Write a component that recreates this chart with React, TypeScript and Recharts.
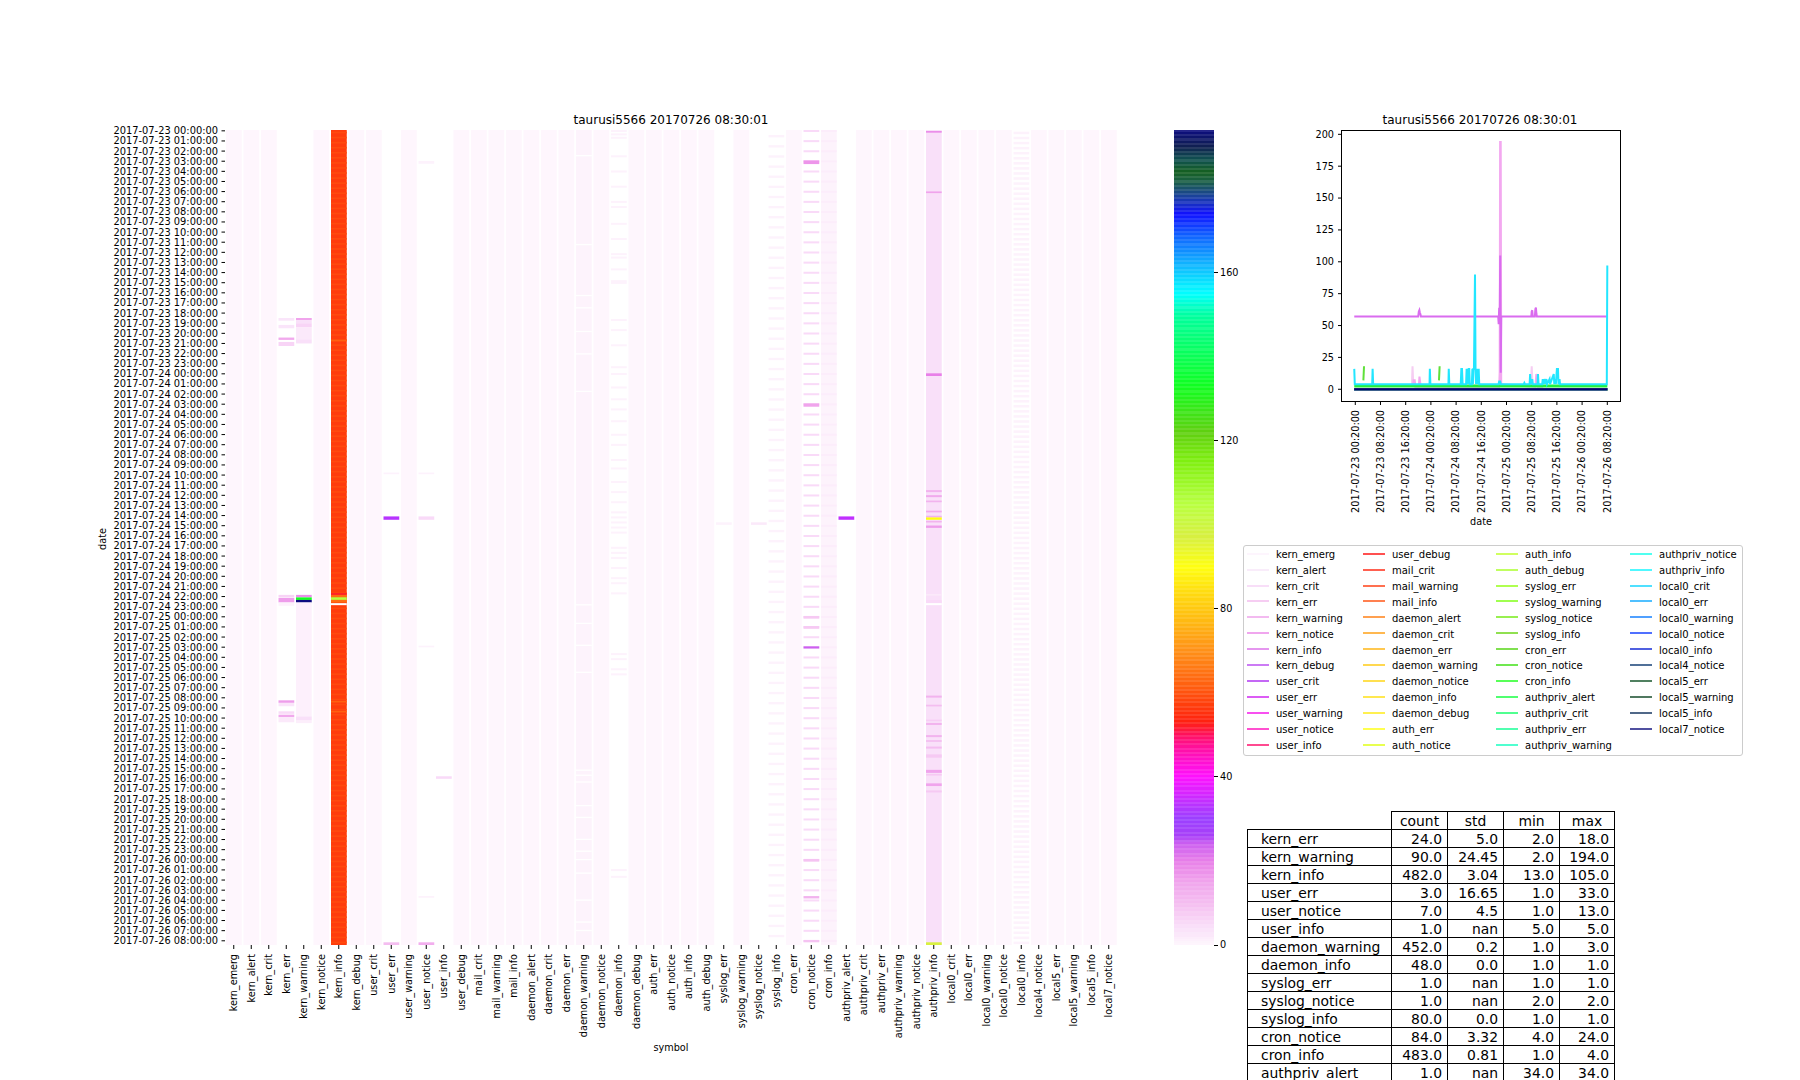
import { Bar, BarChart, Cell, Line, LineChart, XAxis, YAxis } from "recharts";

const FONT = "'DejaVu Sans', sans-serif";
const TITLE = "taurusi5566 20170726 08:30:01";
const ROWS = 483;

const symbols = [
  "kern_emerg", "kern_alert", "kern_crit", "kern_err", "kern_warning", "kern_notice", "kern_info", "kern_debug",
  "user_crit", "user_err", "user_warning", "user_notice", "user_info", "user_debug",
  "mail_crit", "mail_warning", "mail_info",
  "daemon_alert", "daemon_crit", "daemon_err", "daemon_warning", "daemon_notice", "daemon_info", "daemon_debug",
  "auth_err", "auth_notice", "auth_info", "auth_debug",
  "syslog_err", "syslog_warning", "syslog_notice", "syslog_info",
  "cron_err", "cron_notice", "cron_info",
  "authpriv_alert", "authpriv_crit", "authpriv_err", "authpriv_warning", "authpriv_notice", "authpriv_info",
  "local0_crit", "local0_err", "local0_warning", "local0_notice", "local0_info",
  "local4_notice", "local5_err", "local5_warning", "local5_info", "local7_notice",
];

const legendColors = [
  "#fdf5fd", "#f9ecfa", "#f8def8", "#f6cdf2", "#f3baf0", "#f0a6ee", "#e596ef", "#cc7bf5", "#c468f5", "#dc5cf5", "#f850f0", "#ff50d0", "#ff4a90",
  "#ff5050", "#ff6050", "#ff7050", "#ff8050", "#ffa050", "#ffb850", "#ffc850", "#ffd850", "#ffe050", "#ffe850", "#fff050", "#ffff50", "#e8ff50",
  "#d0ff60", "#c0ff60", "#b0ff50", "#a0ff50", "#98f050", "#90e050", "#80e050", "#70e850", "#58ff58", "#50ff70", "#50ff90", "#50ffb0", "#50ffd0",
  "#50fff0", "#50f8ff", "#50e0ff", "#50c0ff", "#50a0ff", "#5070ff", "#5060e0", "#507098", "#508060", "#507860", "#506888", "#5050a0",
];

const plotColorOverrides: Record<string, string> = {
  kern_info: "#da6cef",
  kern_warning: "#f3a8f0",
  cron_notice: "#5fe03a",
  cron_info: "#22f03c",
  authpriv_info: "#22e6ff",
  local7_notice: "#00006e",
};

const days = ["2017-07-23", "2017-07-24", "2017-07-25", "2017-07-26"];
const hours = ["00", "01", "02", "03", "04", "05", "06", "07", "08", "09", "10", "11", "12", "13", "14", "15", "16", "17", "18", "19", "20", "21", "22", "23"];
const hourLabels = days.flatMap((d) => hours.map((h) => `${d} ${h}:00:00`)).slice(0, 81);
const hourTicks = hourLabels.map((_, i) => i * 6 + 0.5);

// colormap: [value, colour]
const colorStops: [number, string][] = [
  [0, "#fef6fd"], [1, "#fdf2fc"], [2, "#fbe9fa"], [4, "#f9e0f9"], [6, "#f8d4f6"], [10, "#f4bdf0"], [15, "#f0a4ec"], [20, "#e87fe8"],
  [24, "#cc60f0"], [26, "#a840f8"], [30, "#9a40ff"], [34, "#c030ff"], [40, "#ff10ff"], [46, "#ff10b0"], [50, "#ff1060"], [53, "#ff2010"],
  [57, "#ff3c0c"], [62, "#ff6010"], [70, "#ff9018"], [78, "#ffbe10"], [84, "#ffdc10"], [90, "#ffff10"], [97, "#d8f040"], [105, "#b8ff40"],
  [115, "#80f010"], [122, "#60d010"], [133, "#10ff20"], [150, "#00ffa0"], [155, "#00ffff"], [161, "#10c0ff"], [169, "#1060ff"], [174, "#1010ff"],
  [178, "#1a40a0"], [182, "#1a6040"], [184, "#156020"], [187, "#105050"], [190, "#102050"], [194, "#0c0c80"],
];

function colorOf(v: number) {
  let i = 0;
  while (i < colorStops.length - 2 && colorStops[i + 1][0] <= v) i++;
  const [a, ca] = colorStops[i];
  const [b, cb] = colorStops[i + 1];
  const t = Math.min(1, (v - a) / (b - a));
  const ch = (c: string, p: number) => parseInt(c.slice(p, p + 2), 16);
  const mix = (p: number) => Math.round(ch(ca, p) + (ch(cb, p) - ch(ca, p)) * t);
  return `rgb(${mix(1)},${mix(3)},${mix(5)})`;
}

// columns that hold no value at all except in the runs listed below
const emptyColumns = ["kern_err", "kern_warning", "user_err", "user_notice", "user_info", "daemon_info", "syslog_err", "syslog_notice", "syslog_info", "cron_notice", "authpriv_alert", "local0_info"];
const baseValues: Record<string, number> = { kern_info: 57, daemon_warning: 0.8, cron_info: 0.8, authpriv_info: 4 };

// runs are [first row, end row, value]; a null value is a missing cell
type Run = [number, number, number | null];
const kernErrRuns: Run[] = [
  [111.4, 113, 3], [115.5, 117.5, 3], [123, 124.4, 14], [125.6, 128, 6], [275.5, 277, 6], [277.3, 280, 16], [280, 282, 1],
  [338, 339.5, 16], [339.5, 341.5, 3], [344.5, 346, 5], [346.5, 348, 14], [348, 351, 2],
];
const kernWarningRuns: Run[] = [
  [111.4, 112.8, 15], [113, 114.5, 4], [114.5, 117, 6], [117, 124, 2], [124, 126.5, 4], [275.5, 277, 18], [277, 278.5, 133], [278.5, 280, 194],
  [280, 347.5, 1.2], [347.5, 350, 4], [350, 351.5, 1.5],
];
const kernInfoRuns: Run[] = [
  [124.3, 125.3, 62], [274.5, 275.5, 52], [275.5, 276.9, 64], [276.9, 278.5, 105], [278.5, 280, 64], [280.4, 281.6, null], [338.3, 339.3, 62], [344.2, 345.2, 62],
];
const userErrRuns: Run[] = [[203, 204, 1], [229, 231, 33], [481.4, 483, 10]];
const userNoticeRuns: Run[] = [[18.4, 20, 1], [203, 204, 1], [229, 231, 5], [305.6, 306.6, 1], [454, 455, 1], [481.4, 483, 13]];
const userInfoRuns: Run[] = [[383, 384.5, 5]];
const syslogErrRuns: Run[] = [[232.5, 234, 1]];
const syslogNoticeRuns: Run[] = [[232.5, 234, 2]];
const authprivAlertRuns: Run[] = [[229, 231, 34]];
const authprivInfoRuns: Run[] = [
  [0.6, 1.6, 18], [36.4, 37.4, 15], [144.2, 145.8, 20], [213.4, 214.6, 12], [216.4, 217.6, 14], [219.6, 220.6, 12], [225.6, 226.6, 14], [228.6, 229.6, 12],
  [229.6, 231, 90], [231.6, 232.6, 12], [234.4, 235.8, 16], [275, 276, 2], [278.6, 280.4, 5], [280.4, 281.6, null], [335.2, 336.4, 12], [340.6, 341.6, 10],
  [349.4, 350.4, 7], [351.4, 352.6, 12], [358.6, 359.8, 12], [361.6, 362.6, 10], [365.4, 366.6, 10], [370, 372, 8], [379.2, 381, 15], [381.6, 382.6, 8],
  [387.2, 388.8, 15], [391.4, 392.6, 8], [481.4, 483, 97],
];
const daemonWarningGaps = [14.8, 67.5, 97.7, 105, 119, 132.3, 154.5, 281, 292, 305, 321, 379, 382, 386, 400, 407, 420, 427, 432, 440, 456, 469, 474];
const daemonInfoRows = [
  0, 2, 4, 15, 24, 33, 42, 45, 55, 64, 73, 75, 82, 89, 90, 112, 118, 127, 140, 144, 152, 159, 165, 172, 180, 186, 195, 200,
  208, 214, 220, 226, 229, 232, 235, 238, 247, 250, 253, 259, 265, 268, 274, 310, 313, 319, 322, 438, 442,
];
const hourlyRows = [
  0, 6, 12, 18, 24, 30, 36, 42, 48, 54, 60, 66, 72, 78, 84, 90, 96, 102, 108, 114, 120, 126, 132, 138, 144, 150, 156, 162, 168, 174, 180, 186, 192, 198, 204, 210, 216,
  222, 228, 234, 240, 246, 252, 258, 264, 270, 276, 282, 288, 294, 300, 306, 312, 318, 324, 330, 336, 342, 348, 354, 360, 366, 372, 378, 384, 390, 396, 402, 408, 414,
  420, 426, 432, 438, 444, 450, 456, 462, 468, 474, 480,
];
const cronNoticeExtra: Run[] = [[18, 20.2, 17], [162, 164, 15], [288, 289.6, 8], [294, 295.6, 8], [306, 307.3, 24], [432, 433.6, 9], [454, 455.4, 12], [480, 481.4, 9]];
const syslogInfoRows = [
  3, 9, 15, 21, 27, 33, 39, 45, 51, 57, 63, 69, 75, 81, 87, 93, 99, 105, 111, 117, 123, 129, 135, 141, 147, 153, 159, 165, 171, 177, 183, 189, 195, 201, 207, 213, 219,
  225, 231, 237, 243, 249, 255, 261, 267, 273, 279, 285, 291, 297, 303, 309, 315, 321, 327, 333, 339, 345, 351, 357, 363, 369, 375, 381, 387, 393, 399, 405, 411, 417,
  423, 429, 435, 441, 447, 453, 459, 465, 471, 477,
];
const local0InfoRows = [
  1, 4, 7, 10, 13, 16, 19, 22, 25, 28, 31, 34, 37, 40, 43, 46, 49, 52, 55, 58, 61, 64, 67, 70, 73, 76, 79, 82, 85, 88, 91, 94, 97, 100, 103, 106, 109, 112, 115, 118,
  121, 124, 127, 130, 133, 136, 139, 142, 145, 148, 151, 154, 157, 160, 163, 166, 169, 172, 175, 178, 181, 184, 187, 190, 193, 196, 199, 202, 205, 208, 211, 214, 217, 220,
  223, 226, 229, 232, 235, 238, 241, 244, 247, 250, 253, 256, 259, 262, 265, 268, 271, 274, 277, 280, 283, 286, 289, 292, 295, 298, 301, 304, 307, 310, 313, 316, 319, 322,
  325, 328, 331, 334, 337, 340, 343, 346, 349, 352, 355, 358, 361, 364, 367, 370, 373, 376, 379, 382, 385, 388, 391, 394, 397, 400, 403, 406, 409, 412, 415, 418, 421, 424,
  427, 430, 433, 436, 439, 442, 445, 448, 451, 454, 457, 460, 463, 466, 469, 472, 475, 478, 481,
];

const rowsOf = (rows: number[], span: number, v: number | null): Run[] => rows.map((r) => [r, r + span, v]);

const heatRuns: Record<string, Run[]> = {
  kern_err: kernErrRuns,
  kern_warning: kernWarningRuns,
  kern_info: [...rowsOf(local0InfoRows, 1, 59), ...kernInfoRuns],
  user_err: userErrRuns,
  user_notice: userNoticeRuns,
  user_info: userInfoRuns,
  syslog_err: syslogErrRuns,
  syslog_notice: syslogNoticeRuns,
  authpriv_alert: authprivAlertRuns,
  authpriv_info: authprivInfoRuns,
  daemon_warning: rowsOf(daemonWarningGaps, 0.8, null),
  daemon_info: rowsOf(daemonInfoRows, 1.2, 1),
  syslog_info: rowsOf(syslogInfoRows, 1.4, 1),
  cron_notice: [...rowsOf(hourlyRows, 1.2, 5), ...cronNoticeExtra],
  cron_info: rowsOf(hourlyRows, 1.2, 1.6),
  local0_info: rowsOf(local0InfoRows, 1.5, 1),
};

const heatData = symbols.flatMap((s, i) => {
  const base = emptyColumns.includes(s) ? [] : [{ col: i + 0.5, range: [0, ROWS], fill: colorOf(baseValues[s] ?? 0) }];
  const runs = (heatRuns[s] ?? []).map(([a, b, v]) => ({ col: i + 0.5, range: [a, b], fill: v === null ? "#ffffff" : colorOf(v) }));
  return [...base, ...runs];
});

const colorbarTicks = [0, 40, 80, 120, 160];
const colorbarData = Array.from({ length: 388 }, (_, v) => ({ col: 0.5, range: [v / 2, v / 2 + 0.5], fill: colorOf(v / 2 + 0.25), dim: v % 2 === 1 }));

// line chart: x is hours after 2017-07-23 00:00
const lineTicks = [0.33, 8.33, 16.33, 24.33, 32.33, 40.33, 48.33, 56.33, 64.33, 72.33, 80.33];
const lineTickLabels = [
  "2017-07-23 00:20:00", "2017-07-23 08:20:00", "2017-07-23 16:20:00", "2017-07-24 00:20:00", "2017-07-24 08:20:00", "2017-07-24 16:20:00",
  "2017-07-25 00:20:00", "2017-07-25 08:20:00", "2017-07-25 16:20:00", "2017-07-26 00:20:00", "2017-07-26 08:20:00",
];
const countTicks = [0, 25, 50, 75, 100, 125, 150, 175, 200];
const xDomain: [number, number] = [-3.89, 84.36];
const yDomain: [number, number] = [-9.2, 202.6];

type Pt = [number, number | null];
const zeroLine: Pt[] = [[0, 0], [80.33, 0]];
const kernErrLine: Pt[] = [[18.3, 3], [18.5, 18], [18.7, 5], [19, 3], [56.1, 3], [56.33, 18], [56.6, 3], [58, 3]];
const kernWarningLine: Pt[] = [
  [18.6, 2], [18.83, 7], [19.2, 7], [19.4, 2], [20.5, 2], [20.7, 10], [20.9, 6], [21.1, 2], [46, 2], [46.17, 14], [46.3, 194], [46.5, 194], [46.65, 4],
  [57.5, 2], [57.8, 12], [58.1, 6], [58.3, 2], [60, 2],
];
const kernInfoLine: Pt[] = [
  [0, 57], [20.3, 57], [20.5, 61], [20.67, 62], [20.83, 60], [21, 59], [21.17, 57], [45.7, 57], [45.85, 51], [46, 64], [46.17, 52], [46.33, 105], [46.5, 13],
  [46.67, 57], [56.2, 57], [56.33, 61], [56.5, 62], [56.67, 57], [57.33, 57], [57.5, 63], [57.67, 64], [57.83, 59], [58, 57], [80.33, 57],
];
const cronNoticeLine: Pt[] = [[2.9, 7], [3.1, 18], [3.11, null], [26.9, 7], [27.1, 18]];
const cronInfoLine: Pt[] = [[0, 2.6], [80.33, 2.6]];
const authprivInfoLine: Pt[] = [
  [0, 16], [0.17, 4], [5.7, 4], [5.83, 16], [6, 4], [23.9, 4], [24, 16], [24.17, 4], [29.9, 4], [30, 16], [30.17, 4], [33.8, 4], [34, 16], [34.2, 16], [34.4, 4],
  [35.5, 4], [35.67, 16], [35.83, 4], [36, 16], [36.17, 4], [36.33, 16], [36.5, 16], [36.67, 4], [37.33, 4], [37.5, 16], [37.67, 4], [37.83, 16], [38, 16],
  [38.33, 90], [38.5, 16], [38.67, 4], [38.83, 16], [39, 4], [39.17, 16], [39.33, 4], [39.5, 16], [39.67, 4],
  [45.8, 4], [46, 6], [46.33, 6], [46.5, 4], [53.83, 4], [54, 5], [54.2, 4], [55.67, 4], [55.83, 12], [56, 4], [56.5, 8], [56.67, 4],
  [58.17, 4], [58.33, 12], [58.5, 4], [59.67, 4], [59.83, 8], [60, 4], [60.5, 8], [60.67, 4], [61, 8], [61.2, 4], [62, 8], [62.17, 4], [63.33, 12], [63.5, 4],
  [63.83, 8], [64, 4], [64.33, 16], [64.67, 16], [64.83, 4], [65.17, 8], [65.33, 4], [80.17, 4], [80.33, 97],
];
const lineSeries: Record<string, Pt[]> = {
  kern_err: kernErrLine,
  kern_warning: kernWarningLine,
  kern_info: kernInfoLine,
  cron_notice: cronNoticeLine,
  cron_info: cronInfoLine,
  authpriv_info: authprivInfoLine,
};

// describe table
const tableColumns = ["count", "std", "min", "max"];
const tableNames = ["kern_err", "kern_warning", "kern_info", "user_err", "user_notice", "user_info", "daemon_warning", "daemon_info", "syslog_err", "syslog_notice", "syslog_info", "cron_notice", "cron_info", "authpriv_alert"];
const tableCount = ["24.0", "90.0", "482.0", "3.0", "7.0", "1.0", "452.0", "48.0", "1.0", "1.0", "80.0", "84.0", "483.0", "1.0"];
const tableStd = ["5.0", "24.45", "3.04", "16.65", "4.5", "nan", "0.2", "0.0", "nan", "nan", "0.0", "3.32", "0.81", "nan"];
const tableMin = ["2.0", "2.0", "13.0", "1.0", "1.0", "5.0", "1.0", "1.0", "1.0", "2.0", "1.0", "4.0", "1.0", "34.0"];
const tableMax = ["18.0", "194.0", "105.0", "33.0", "13.0", "5.0", "3.0", "1.0", "1.0", "2.0", "1.0", "24.0", "4.0", "34.0"];

const tickFont = { fontSize: 9.7, fill: "#000", fontFamily: FONT };
const dateTickFont = { ...tickFont, fontSize: 9.85 };
const tickStroke = { stroke: "#000" };

const place = (left: number, top: number): React.CSSProperties => ({ position: "absolute", left, top });

function Caption({ x, y, text, size = 9.7, rotate = false }: { x: number; y: number; text: string; size?: number; rotate?: boolean }) {
  return (
    <div style={{ ...place(x, y), fontSize: size, whiteSpace: "nowrap", lineHeight: 1, transform: `translate(-50%,-50%)${rotate ? " rotate(-90deg)" : ""}` }}>
      {text}
    </div>
  );
}

function VerticalTick({ x, y, payload, labels }: any) {
  return (
    <text x={x} y={y} dy={3.4} textAnchor="end" transform={`rotate(-90 ${x} ${y})`} {...tickFont}>
      {labels(payload.value)}
    </text>
  );
}

function Heatmap() {
  return (
    <div style={place(0, 100)}>
      <BarChart width={1160} height={980} data={heatData} margin={{ top: 30, right: 42.5, left: 0, bottom: 0 }}>
        <XAxis
          dataKey="col" type="number" domain={[0, symbols.length]} ticks={symbols.map((_, i) => i + 0.5)} interval={0} height={135}
          axisLine={false} tickLine={tickStroke} tickSize={4} tickMargin={5}
          tick={<VerticalTick labels={(v: number) => symbols[Math.floor(v)]} />}
        />
        <YAxis
          type="number" reversed domain={[0, ROWS]} ticks={hourTicks} interval={0} width={225} axisLine={false} tickLine={tickStroke} tickSize={3.5} tickMargin={3.5}
          tick={dateTickFont} tickFormatter={(v: number) => hourLabels[Math.floor(v / 6)]}
        />
        <Bar dataKey="range" barSize={17.5} isAnimationActive={false}>
          {heatData.map((d, i) => <Cell key={i} fill={d.fill} />)}
        </Bar>
      </BarChart>
    </div>
  );
}

function Colorbar() {
  return (
    <div style={{ ...place(1174, 100), shapeRendering: "crispEdges" }}>
      <BarChart width={80} height={860} data={colorbarData} margin={{ top: 30, right: 0, left: 0, bottom: 15 }}>
        <XAxis dataKey="col" type="number" domain={[0, 1]} hide />
        <YAxis
          orientation="right" type="number" domain={[0, 194]} ticks={colorbarTicks} interval={0} width={40} axisLine={false} tickLine={tickStroke} tickSize={4} tickMargin={2}
          tick={tickFont}
        />
        <Bar dataKey="range" barSize={40} isAnimationActive={false}>
          {colorbarData.map((d, i) => <Cell key={i} fill={d.fill} fillOpacity={d.dim ? 0.9 : 1} />)}
        </Bar>
      </BarChart>
    </div>
  );
}

function CountLines() {
  return (
    <div style={place(1240, 100)}>
      <LineChart width={420} height={440} margin={{ top: 31, right: 40, left: 0, bottom: 0 }}>
        <XAxis
          dataKey="x" type="number" domain={xDomain} ticks={lineTicks} interval={0} height={139} axisLine={false} tickLine={tickStroke} tickSize={4} tickMargin={5}
          tick={<VerticalTick labels={(v: number) => lineTickLabels[lineTicks.indexOf(v)]} />}
        />
        <YAxis
          type="number" domain={yDomain} ticks={countTicks} interval={0} width={102} axisLine={false} tickLine={tickStroke} tickSize={4} tickMargin={4}
          tick={tickFont}
        />
        {symbols.map((s, i) => (
          <Line
            key={s} name={s} dataKey="y" data={(lineSeries[s] ?? zeroLine).map(([x, y]) => ({ x, y }))} stroke={plotColorOverrides[s] ?? legendColors[i]}
            strokeWidth={s === "cron_info" ? 3 : 2} dot={false} isAnimationActive={false} type="linear"
          />
        ))}
      </LineChart>
      {/* axes frame */}
      <div style={{ ...place(101, 30), width: 278, height: 270, border: "1px solid #000", pointerEvents: "none" }} />
    </div>
  );
}

function SymbolLegend() {
  const colLeft = [2.5, 118.5, 251.5, 385.5];
  return (
    <div style={{ ...place(1243, 545), width: 498, height: 209, border: "1px solid #ccc", borderRadius: 3, boxSizing: "content-box", fontSize: 10 }}>
      {symbols.map((s, i) => {
        const col = Math.min(Math.floor(i / 13), 3);
        const row = i - col * 13;
        return (
          <div key={s}>
            <div style={{ ...place(colLeft[col], 6.7 + row * 15.92), width: 22, height: 2, background: legendColors[i] }} />
            <div style={{ ...place(colLeft[col] + 29.5, 3 + row * 15.92), lineHeight: "12px", whiteSpace: "nowrap" }}>{s}</div>
          </div>
        );
      })}
    </div>
  );
}

function DescribeTable() {
  const cell: React.CSSProperties = { border: "1px solid #000", padding: "0 5px", textAlign: "right", height: 18, boxSizing: "border-box", lineHeight: "16px", overflow: "hidden" };
  return (
    <table style={{ ...place(1247, 811), borderCollapse: "collapse", tableLayout: "fixed", width: 367, fontSize: 13.9 }}>
      <colgroup>
        <col style={{ width: 144 }} /><col style={{ width: 56 }} /><col style={{ width: 56 }} /><col style={{ width: 56 }} /><col style={{ width: 55 }} />
      </colgroup>
      <tbody>
        <tr>
          <td style={{ ...cell, border: "none" }} />
          {tableColumns.map((c) => <td key={c} style={{ ...cell, textAlign: "center", fontWeight: 400 }}>{c}</td>)}
        </tr>
        {tableNames.map((n, i) => (
          <tr key={n}>
            <td style={{ ...cell, textAlign: "left", paddingLeft: 13 }}>{n}</td>
            <td style={cell}>{tableCount[i]}</td>
            <td style={cell}>{tableStd[i]}</td>
            <td style={cell}>{tableMin[i]}</td>
            <td style={cell}>{tableMax[i]}</td>
          </tr>
        ))}
      </tbody>
    </table>
  );
}

export default function App() {
  return (
    <div style={{ position: "absolute", left: 0, top: 0, width: 1800, height: 1080, overflow: "hidden", background: "#fff", color: "#000", fontFamily: FONT }}>
      <Heatmap />
      <Colorbar />
      <CountLines />
      <SymbolLegend />
      <DescribeTable />
      <Caption x={671} y={120} text={TITLE} size={12} />
      <Caption x={1480} y={120} text={TITLE} size={12} />
      <Caption x={102.5} y={539} text="date" rotate />
      <Caption x={671} y={1048} text="symbol" />
      <Caption x={1481} y={522} text="date" />
    </div>
  );
}
